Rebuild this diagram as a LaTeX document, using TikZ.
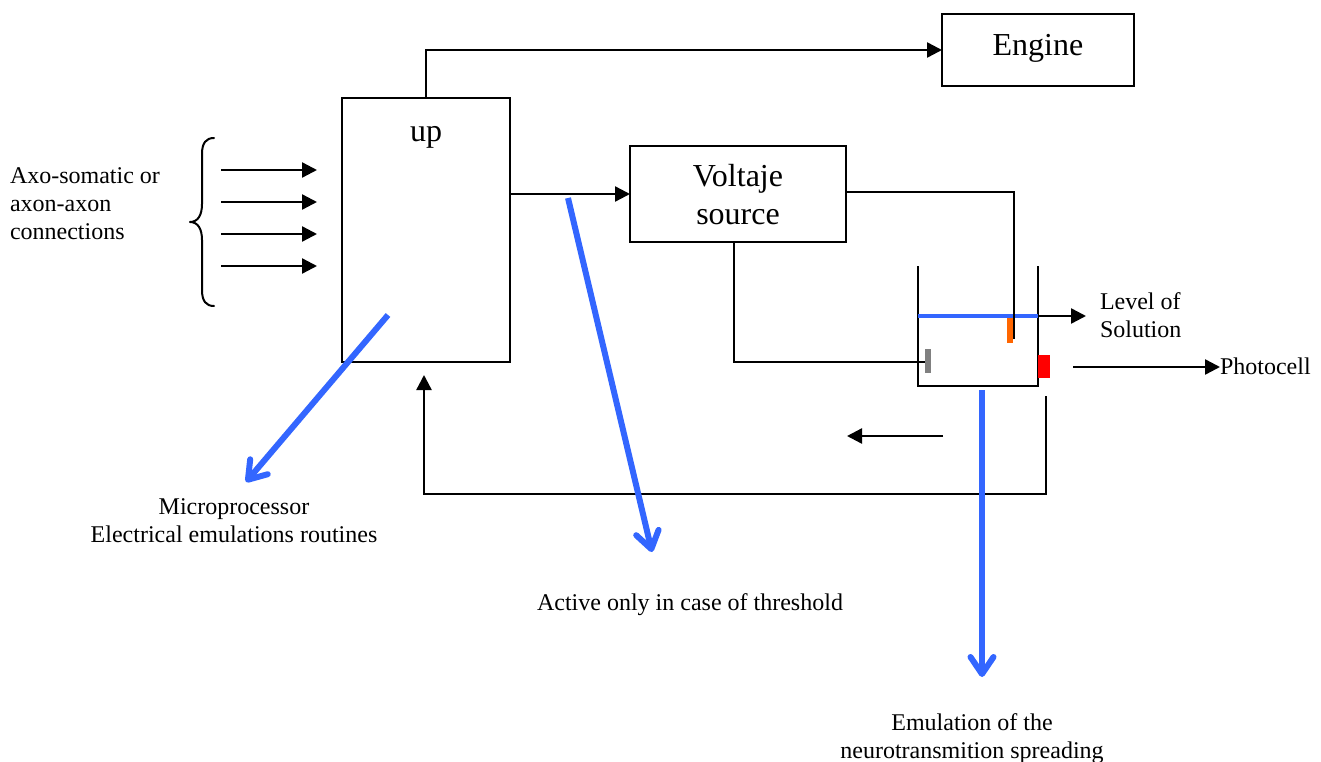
\documentclass[tikz,border=0pt]{standalone}
\usepackage{fontspec}
\setmainfont{Liberation Serif}
\usetikzlibrary{arrows.meta}
\tikzset{
  boxnode/.style={draw,line width=2pt,outer sep=0pt,inner sep=0pt,align=center,font=\fontsize{32}{38}\selectfont},
  txt/.style={inner sep=0pt,outer sep=0pt,font=\fontsize{24}{28}\selectfont},
  wire/.style={line width=2.4pt},
  conn/.style={line width=2.4pt,-{Triangle[length=15pt,width=15pt]}},
  bluearrow/.style={line width=6pt,color=levelblue,-{Straight Barb[round,length=17pt,width=23pt,line width=6pt]}}
}
\definecolor{levelblue}{HTML}{3366FF}
\definecolor{electrodeorange}{HTML}{FF6600}
\definecolor{electrodegray}{HTML}{808080}
\begin{document}
\begin{tikzpicture}[x=1pt,y=-1pt]
       \useasboundingbox(0,0)rectangle(1321,762);
       \node[boxnode,minimum width=192,minimum height=72,text depth=11pt](engine)at(1038,50){Engine};%エンジン
       \node[boxnode,minimum width=168,minimum height=264](up)at(426,230){};%up
       \node[boxnode,minimum width=216,minimum height=96](source)at(738,194){\rule{0pt}{24pt}Voltaje\\source};%電源
       \node[txt,font=\fontsize{32}{36}\selectfont](uptext)at(426,137){up};

       \coordinate(TL)at(918,266);%容器
       \coordinate(BL)at(918,386);
       \coordinate(BR)at(1038,386);
       \coordinate(TR)at(1038,266);
       \coordinate(LL)at(918,316);%液面
       \coordinate(LR)at(1038,316);
       \coordinate(GE)at(925,362);%電極
       \coordinate(OE)at(1014,339);
       \coordinate(UE)at(426,50);
       \coordinate(SW)at(734,362);

       \draw[wire](TL)--(BL)--(BR)--(TR);
       \fill[electrodeorange](1007,318)rectangle(1013,343);
       \fill[electrodegray](925,349)rectangle(931,373);
       \fill[red](1038,355)rectangle(1050,378);
       \draw[line width=4.5pt,levelblue](LL)--(LR);

       \draw[conn](up.north)--(UE)--(engine.west);
       \draw[conn](up.east|-source.west)--(source.west);
       \draw[wire](846,192)-|(OE);
       \draw[wire](734,242)--(SW)--(GE);

       \foreach \t in{170,202,234,266}{
           \coordinate(A\t)at(221,\t);
           \coordinate(B\t)at(317,\t);
           \draw[conn](A\t)--(B\t);%入力
       }
       \draw[wire,line width=2pt,line cap=round,line join=round](214,138)..controls(206,138)and(202,143)..(202,154)--(202,204)
           ..controls(202,215)and(198,222)..(190,222)
           ..controls(198,222)and(202,229)..(202,240)--(202,290)
           ..controls(202,301)and(206,306)..(214,306);%括弧

       \node[txt,anchor=west,align=left](axo)at(10,204){Axo-somatic or\\axon-axon\\connections};
       \node[txt,anchor=west,align=left](level)at(1100,315){Level of\\Solution};
       \node[txt,anchor=west](photo)at(1220,366){Photocell};
       \node[txt,align=center](micro)at(234,521){Microprocessor\\Electrical emulations routines};
       \node[txt](active)at(690,605){Active only in case of threshold};
       \node[txt,align=center](emul)at(972,739){Emulation of the\\neurotransmition spreading};

       \coordinate(LA)at(1086,316);%右向き矢印
       \coordinate(PA)at(1073,367);
       \coordinate(PB)at(1220,367);
       \draw[conn](LR)--(LA);
       \draw[conn](PA)--(PB);

       \coordinate(F1)at(943,436);
       \coordinate(F2)at(847,436);
       \draw[conn](F1)--(F2);
       \coordinate(R1)at(1046,396);%帰還
       \coordinate(R2)at(1046,494);
       \coordinate(R3)at(424,494);
       \coordinate(R4)at(424,375);
       \draw[conn](R1)--(R2)--(R3)--(R4);

       \coordinate(M1)at(388,315);%青い矢印
       \coordinate(M2)at(246,482);
       \coordinate(T1)at(568,198);
       \coordinate(T2)at(652,552);
       \coordinate(E1)at(982,390);
       \coordinate(E2)at(982,677);
       \draw[bluearrow](M1)--(M2);
       \draw[bluearrow](T1)--(T2);
       \draw[bluearrow](E1)--(E2);
\end{tikzpicture}
\end{document}
